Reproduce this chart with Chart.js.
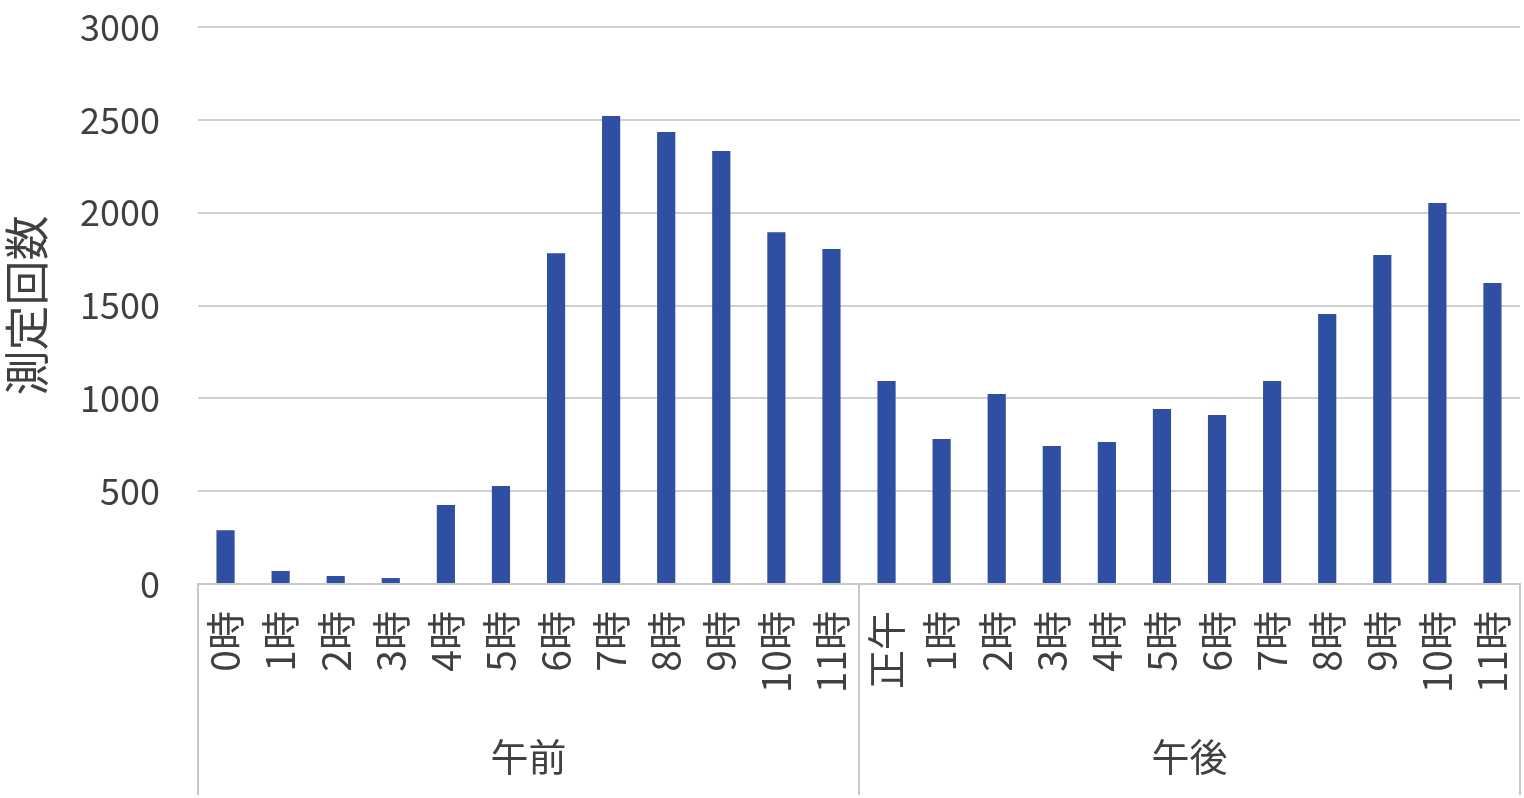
<!DOCTYPE html>
<html>
<head>
<meta charset="utf-8">
<script src="https://cdn.jsdelivr.net/npm/chart.js@4/dist/chart.umd.min.js"></script>
<style>
  html, body { margin: 0; padding: 0; background: #fff; overflow: hidden; }
  #wrap { width: 1524px; height: 798px; }
</style>
</head>
<body>
<div id="wrap"><canvas id="hourChart"></canvas></div>
<script>
// 時間帯ごとの測定回数
var hourLabels = ['0時', '1時', '2時', '3時', '4時', '5時', '6時', '7時', '8時', '9時', '10時', '11時',
                  '正午', '1時', '2時', '3時', '4時', '5時', '6時', '7時', '8時', '9時', '10時', '11時'];
var counts = [290, 70, 43, 32, 425, 528, 1782, 2520, 2434, 2332, 1895, 1804,
              1093, 781, 1023, 743, 765, 942, 910, 1093, 1454, 1772, 2052, 1621];
var groupNames = ['午前', '午後'];
var groupSizes = [12, 12];
var yTicks = [0, 500, 1000, 1500, 2000, 2500, 3000];

var textColor = '#404040';
var lineColor = '#C8C8C8';
var fontFamily = '"Noto Sans CJK JP", "Noto Sans", sans-serif';

// 2段目の区分ラベル（午前／午後）と区切り線
var groupAxisPlugin = {
    id: 'groupAxis',
    afterDraw: function(chart) {
        var ctx = chart.ctx;
        var x = chart.scales.x;
        var area = chart.chartArea;
        var bottom = chart.height - 3;
        var step = x.getPixelForValue(1) - x.getPixelForValue(0);

        ctx.save();
        ctx.strokeStyle = lineColor;
        ctx.lineWidth = 2;
        ctx.fillStyle = textColor;
        ctx.font = '38px ' + fontFamily;
        ctx.textAlign = 'center';
        ctx.textBaseline = 'middle';

        var start = 0;
        groupSizes.forEach(function(size, i) {
            var left = x.getPixelForValue(start) - step / 2;
            var right = x.getPixelForValue(start + size - 1) + step / 2;
            [left, right].forEach(function(px) {
                ctx.beginPath();
                ctx.moveTo(px, area.bottom);
                ctx.lineTo(px, bottom);
                ctx.stroke();
            });
            ctx.fillText(groupNames[i], (left + right) / 2, 757);
            start += size;
        });
        ctx.restore();
    }
};

var ctx = document.getElementById('hourChart').getContext('2d');
new Chart(ctx, {
    type: 'bar',
    data: {
        labels: hourLabels,
        datasets: [{
            label: '測定回数',
            data: counts,
            backgroundColor: '#2E4FA2',
            barPercentage: 0.33,
            categoryPercentage: 1.0
        }]
    },
    options: {
        responsive: true,
        maintainAspectRatio: false,
        animation: false,
        layout: { padding: { top: 27, right: 4, left: 0, bottom: 0 } },
        plugins: {
            legend: { display: false },
            tooltip: { enabled: false }
        },
        scales: {
            x: {
                grid: { display: false, drawTicks: false },
                border: { display: true, color: lineColor, width: 2 },
                ticks: {
                    color: textColor,
                    font: { size: 39, family: fontFamily },
                    minRotation: 90,
                    maxRotation: 90,
                    autoSkip: false,
                    padding: 27
                },
                afterFit: function(scale) {
                    scale.height = 214;
                    scale.paddingLeft = 0;
                    scale.paddingRight = 0;
                }
            },
            y: {
                min: 0,
                max: 3000,
                afterBuildTicks: function(scale) {
                    scale.ticks = yTicks.map(function(v) { return { value: v }; });
                },
                grid: { color: '#D0D0D0', lineWidth: 2, drawTicks: false },
                border: { display: false },
                ticks: {
                    color: textColor,
                    font: { size: 36, family: fontFamily },
                    padding: 38,
                    callback: function(value) { return String(value); }
                },
                title: {
                    display: true,
                    text: '測定回数',
                    color: textColor,
                    font: { size: 45, family: fontFamily },
                    padding: { top: 0, bottom: 0 }
                },
                afterFit: function(scale) {
                    scale.width = 198;
                    scale.paddingTop = 0;
                    scale.paddingBottom = 0;
                }
            }
        }
    },
    plugins: [groupAxisPlugin]
});
</script>
</body>
</html>
